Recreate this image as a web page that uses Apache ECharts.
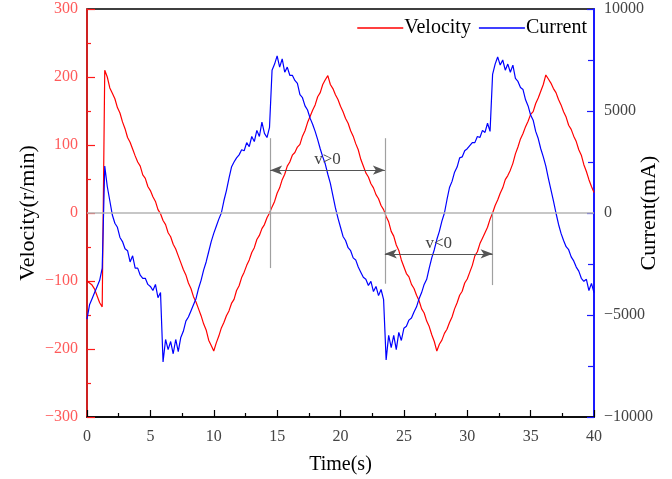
<!DOCTYPE html>
<html><head><meta charset="utf-8">
<script src="https://cdn.jsdelivr.net/npm/echarts@6/dist/echarts.min.js"></script>
<style>html,body{margin:0;padding:0;background:#fff}#c{width:672px;height:479px}</style>
</head><body><div id="c"></div>
<script>
// Sampling interval of the recorded signals (s)
const T_STEP = 0.2;

// Velocity (r/min), one value per 0.2 s from t = 0 to t = 40
const velocity = [
  -100, -103, -106, -112, -122, -132, -138, 210, 200, 184,
  176, 168, 155, 147, 134, 124, 111, 104, 94, 84,
  75, 69, 56, 51, 39, 33, 24, 17, 5, -1,
  -11, -17, -29, -35, -46, -53, -63, -73, -83, -91,
  -103, -111, -123, -131, -141, -151, -163, -172, -187, -195,
  -203, -191, -181, -169, -161, -151, -144, -133, -127, -114,
  -107, -95, -87, -77, -69, -58, -51, -39, -33, -23,
  -17, -7, 0, 9, 17, 29, 37, 49, 57, 69,
  75, 85, 89, 97, 101, 113, 121, 133, 142, 151,
  159, 171, 177, 189, 196, 202, 189, 183, 174, 167,
  157, 149, 139, 132, 121, 113, 102, 93, 79, 69,
  59, 53, 43, 37, 27, 21, 11, 5, -5, -13,
  -27, -34, -47, -55, -69, -79, -89, -94, -105, -111,
  -121, -129, -141, -147, -159, -167, -179, -189, -203, -193,
  -187, -177, -171, -161, -153, -141, -132, -121, -115, -103,
  -97, -87, -77, -63, -57, -45, -37, -29, -21, -9,
  0, 11, 19, 29, 37, 49, 55, 63, 73, 87,
  97, 109, 117, 127, 135, 145, 149, 161, 169, 179,
  189, 203, 197, 191, 183, 177, 167, 159, 149, 141,
  129, 123, 113, 105, 93, 85, 71, 61, 49, 39,
  30
];

// Current (mA), one value per 0.2 s from t = 0 to t = 40
const current = [
  -5200, -4500, -4200, -3900, -3600, -3300, -2700, 2300, 1300, 600,
  -100, -500, -700, -1200, -1400, -1750, -1850, -2400, -2100, -2700,
  -2700, -3050, -3200, -3200, -3500, -3600, -3800, -3500, -4150, -3900,
  -7300, -6200, -6700, -6300, -6900, -6200, -6800, -6100, -5800, -5300,
  -5100, -4800, -4500, -4200, -3700, -3300, -2800, -2400, -1900, -1400,
  -1000, -650, -300, 0, 600, 1100, 1700, 2250, 2500, 2700,
  2850, 3100, 3050, 3450, 3250, 3750, 3500, 4050, 3750, 4450,
  3900, 3700, 4200, 7000, 7300, 7700, 7150, 7550, 6900, 7150,
  6750, 6750, 6500, 6350, 5800, 5650, 5250, 5050, 4650, 4350,
  4000, 3600, 3150, 2750, 2400, 1900, 1450, 850, 250, -250,
  -700, -1150, -1350, -1700, -1850, -2200, -2300, -2650, -2900, -3150,
  -3250, -3550, -3350, -3850, -3600, -4050, -3750, -4250, -7200, -6000,
  -6600, -6000, -6700, -5850, -6250, -5650, -5550, -5250, -5150, -4850,
  -4600, -4200, -3900, -3500, -3250, -2700, -2200, -1800, -1300, -900,
  -400, 0, 650, 1250, 1550, 2000, 2250, 2700, 2750, 3050,
  3150, 3300, 3450, 3450, 3750, 3700, 4050, 3950, 4400, 4000,
  6800, 7300, 7650, 7250, 7500, 7000, 7300, 6900, 7250, 6600,
  6450, 6150, 6050, 5550, 5250, 4800, 4550, 4000, 3650, 3150,
  2750, 2300, 1700, 1150, 600, 0, -550, -1000, -1350, -1650,
  -1800, -2150, -2350, -2650, -2850, -3200, -3350, -3250, -3800, -3450,
  -3900
];

const seriesNames = ['Velocity', 'Current'];
const timeRange = [0, 40];
const velocityRange = [-300, 300];
const currentRange = [-10000, 10000];

const toPairs = arr => arr.map((v, i) => [+(i * T_STEP).toFixed(1), v]);
const minus = v => String(v).replace('-', '\u2212');
const FONT = "'Liberation Serif','Times New Roman',serif";

const chart = echarts.init(document.getElementById('c'), null, {renderer: 'canvas'});
chart.setOption({
  animation: false,
  backgroundColor: '#fff',
  textStyle: {fontFamily: FONT},
  grid: {left: 87, right: 78, top: 9, bottom: 62, outerBoundsMode: 'none', containLabel: false,
         show: true, borderColor: '#000', borderWidth: 1.5, backgroundColor: 'transparent'},
  legend: {
    data: [{name: seriesNames[0], icon: 'rect'}, {name: seriesNames[1], icon: 'rect'}],
    right: 80, top: 13, itemWidth: 46, itemHeight: 1.4, itemGap: 8,
    textStyle: {fontFamily: FONT, fontSize: 20, color: '#000', padding: [0, 0, 0, -4]}
  },
  xAxis: {
    type: 'value', min: timeRange[0], max: timeRange[1], interval: 5,
    name: 'Time(s)', nameLocation: 'middle', nameGap: 38, nameMoveOverlap: false,
    nameTextStyle: {fontFamily: FONT, fontSize: 20, color: '#000'},
    axisLine: {onZero: false, lineStyle: {color: '#000', width: 1.5}},
    axisTick: {inside: true, length: 7, lineStyle: {color: '#000', width: 1.2}},
    minorTick: {show: true, splitNumber: 2, length: 4, lineStyle: {color: '#000', width: 1.2}},
    axisLabel: {fontFamily: FONT, fontSize: 16, color: '#444', margin: 12},
    splitLine: {show: false}
  },
  yAxis: [{
    type: 'value', min: velocityRange[0], max: velocityRange[1], interval: 100, position: 'left',
    name: 'Velocity(r/min)', nameLocation: 'middle', nameGap: 48, nameMoveOverlap: false,
    nameTextStyle: {fontFamily: FONT, fontSize: 22, color: '#000'},
    axisLine: {show: true, onZero: false, lineStyle: {color: '#ff1a1a', width: 1.5}},
    axisTick: {show: true, inside: true, length: 8, lineStyle: {color: '#ff1a1a', width: 1.2}},
    minorTick: {show: true, splitNumber: 2, length: 4, lineStyle: {color: '#ff1a1a', width: 1.2}},
    axisLabel: {fontFamily: FONT, fontSize: 16, color: '#ff5a5a', margin: 9, formatter: minus},
    splitLine: {show: false}
  }, {
    type: 'value', min: currentRange[0], max: currentRange[1], interval: 5000, position: 'right',
    name: 'Current(mA)', nameLocation: 'middle', nameGap: 44, nameRotate: 90, nameMoveOverlap: false,
    nameTextStyle: {fontFamily: FONT, fontSize: 22, color: '#000'},
    axisLine: {show: true, onZero: false, lineStyle: {color: '#1a1aff', width: 2}},
    axisTick: {show: true, inside: true, length: 7, lineStyle: {color: '#1a1aff', width: 1.2}},
    minorTick: {show: true, splitNumber: 2, length: 6, lineStyle: {color: '#1a1aff', width: 1.2}},
    axisLabel: {fontFamily: FONT, fontSize: 16, color: '#444', margin: 10, formatter: minus},
    splitLine: {show: false}
  }],
  series: [{
    name: seriesNames[0], type: 'line', yAxisIndex: 0, data: toPairs(velocity),
    symbol: 'none', lineStyle: {color: '#ff0000', width: 1.2}, itemStyle: {color: '#ff0000'},
    z: 3,
    markLine: {
      silent: true, animation: false, symbol: 'none', precision: 2,
      label: {show: false},
      data: [
        {yAxis: 0, lineStyle: {color: '#b4b4b4', width: 1.5, type: 'solid'}},
        [{coord: [14.45, 110], symbol: 'none'}, {coord: [14.45, -81], symbol: 'none', lineStyle: {color: '#a0a0a0', width: 1.2, type: 'solid'}}],
        [{coord: [23.5, 110], symbol: 'none'}, {coord: [23.5, -104], symbol: 'none', lineStyle: {color: '#a0a0a0', width: 1.2, type: 'solid'}}],
        [{coord: [32.0, 0], symbol: 'none'}, {coord: [32.0, -106], symbol: 'none', lineStyle: {color: '#a0a0a0', width: 1.2, type: 'solid'}}],
        [{coord: [14.45, 63], symbol: 'arrow', symbolSize: [7, 12]},
         {coord: [23.5, 63], symbol: 'arrow', symbolSize: [7, 12],
          lineStyle: {color: '#555', width: 1.2, type: 'solid'},
          label: {show: true, position: 'middle', formatter: 'v>0', fontFamily: FONT, fontSize: 17, color: '#444', distance: 2}}],
        [{coord: [23.5, -60], symbol: 'arrow', symbolSize: [7, 12]},
         {coord: [32.0, -60], symbol: 'arrow', symbolSize: [7, 12],
          lineStyle: {color: '#555', width: 1.2, type: 'solid'},
          label: {show: true, position: 'middle', formatter: 'v<0', fontFamily: FONT, fontSize: 17, color: '#444', distance: 2}}]
      ],
      itemStyle: {color: '#000'}
    }
  }, {
    name: seriesNames[1], type: 'line', yAxisIndex: 1, data: toPairs(current),
    symbol: 'none', lineStyle: {color: '#0000ff', width: 1.2}, itemStyle: {color: '#0000ff'},
    z: 3
  }]
});
</script></body></html>
